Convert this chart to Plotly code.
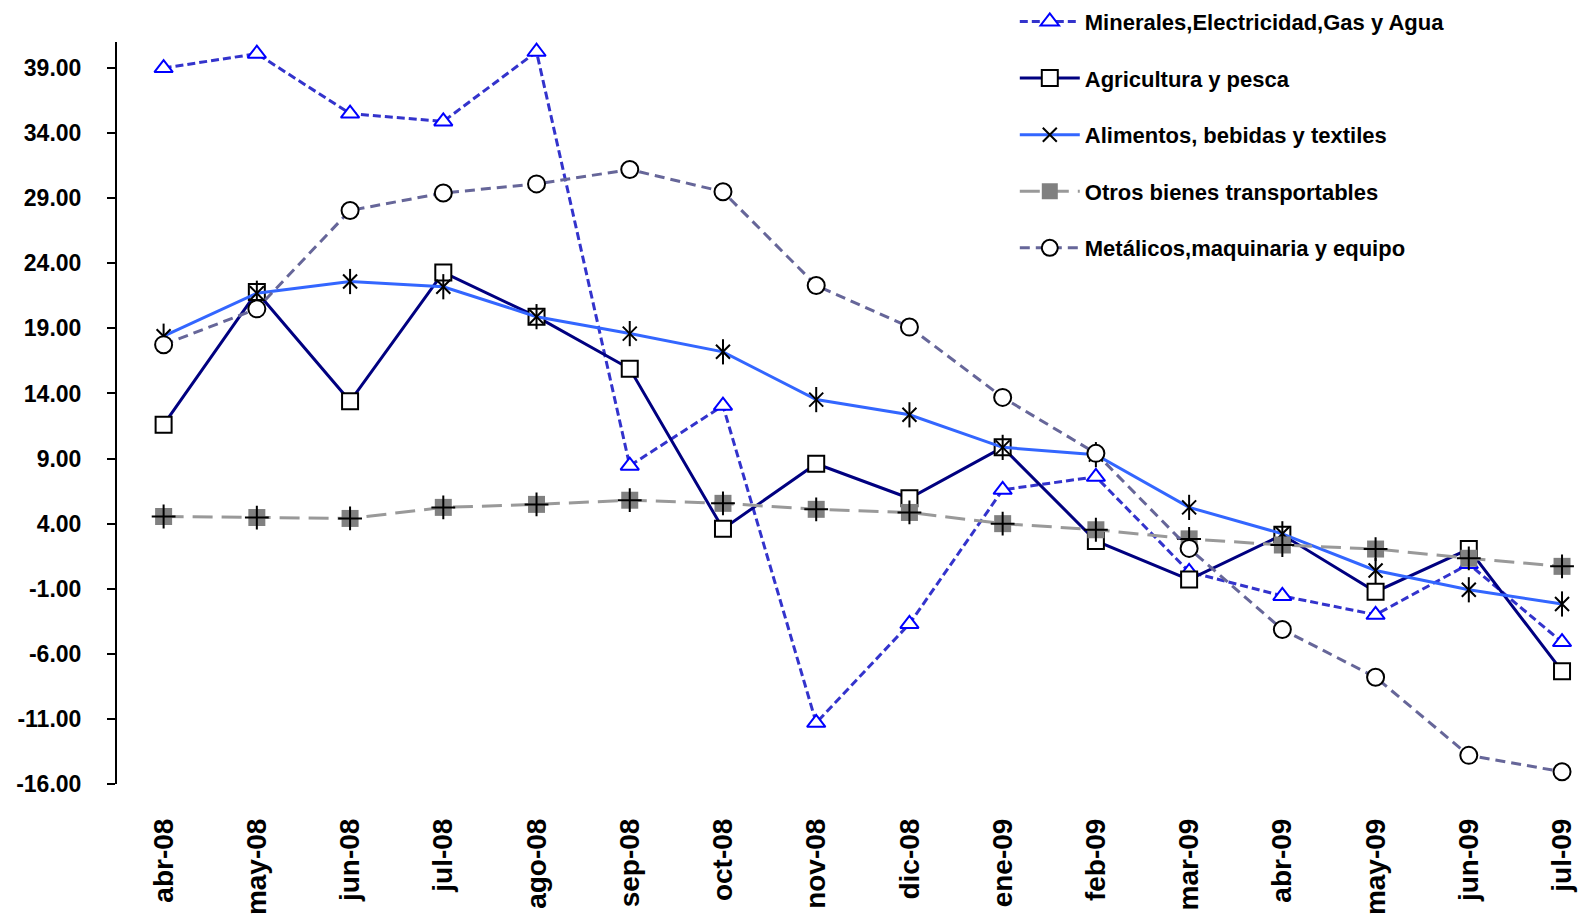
import plotly.graph_objects as go

months = ["abr-08", "may-08", "jun-08", "jul-08", "ago-08", "sep-08", "oct-08", "nov-08",
          "dic-08", "ene-09", "feb-09", "mar-09", "abr-09", "may-09", "jun-09", "jul-09"]

minerales = [39.0, 40.1, 35.5, 34.9, 40.25, 8.45, 13.06, -11.3, -3.7, 6.6, 7.6, 0.3, -1.55, -3.0, 0.9, -5.1]
agricultura = [11.6, 21.8, 13.4, 23.3, 19.9, 15.9, 3.6, 8.6, 5.95, 9.86, 2.67, -0.3, 3.14, -1.23, 2.05, -7.33]
alimentos = [18.4, 21.7, 22.6, 22.2, 19.9, 18.6, 17.2, 13.53, 12.36, 9.86, 9.3, 5.25, 3.22, 0.4, -1.08, -2.17]
otros = [4.55, 4.47, 4.4, 5.25, 5.48, 5.8, 5.56, 5.1, 4.86, 4.0, 3.53, 2.83, 2.36, 2.05, 1.34, 0.72]
metalicos = [17.75, 20.5, 28.06, 29.4, 30.1, 31.2, 29.5, 22.3, 19.1, 13.7, 9.4, 2.1, -4.13, -7.8, -13.8, -15.06]

y_ticks = [39, 34, 29, 24, 19, 14, 9, 4, -1, -6, -11, -16]

x = list(range(len(months)))
FONT = "Liberation Sans, Arial, sans-serif"

fig = go.Figure()

fig.add_trace(go.Scatter(
    x=x, y=minerales, name="Minerales,Electricidad,Gas y Agua", mode="lines+markers",
    legendgroup="g1",
    line=dict(color="#3333CC", width=3, dash="8px,4px"),
    marker=dict(symbol="triangle-up", size=16, color="white", line=dict(color="#0000FF", width=2)),
))
fig.add_trace(go.Scatter(
    x=x, y=agricultura, name="Agricultura y pesca", mode="lines+markers",
    legendgroup="g2",
    line=dict(color="#000080", width=3),
    marker=dict(symbol="square", size=16, color="white", line=dict(color="black", width=2)),
))
fig.add_trace(go.Scatter(
    x=x, y=alimentos, name="Alimentos, bebidas y textiles", mode="lines+markers",
    legendgroup="g3",
    line=dict(color="#3366FF", width=3),
    marker=dict(symbol="x-thin-open", size=14, color="black", line=dict(color="black", width=2)),
))
fig.add_trace(go.Scatter(
    x=x, y=alimentos, mode="markers", showlegend=False, legendgroup="g3", hoverinfo="skip",
    marker=dict(symbol="line-ns-open", size=18, color="black", line=dict(color="black", width=2)),
))
fig.add_trace(go.Scatter(
    x=x, y=otros, name="Otros bienes transportables", mode="lines+markers",
    legendgroup="g4",
    line=dict(color="#999999", width=3, dash="20px,9px"),
    marker=dict(symbol="square", size=17, color="#808080", line=dict(width=0)),
))
fig.add_trace(go.Scatter(
    x=x, y=otros, mode="markers", showlegend=False, legendgroup="g4", hoverinfo="skip",
    marker=dict(symbol="cross-thin-open", size=17, color="black", line=dict(color="black", width=2)),
))
fig.add_trace(go.Scatter(
    x=x, y=metalicos, name="Metálicos,maquinaria y equipo", mode="lines+markers",
    legendgroup="g5",
    line=dict(color="#666699", width=3, dash="10px,6px"),
    marker=dict(symbol="circle", size=17, color="white", line=dict(color="black", width=2)),
))

fig.update_layout(
    width=1595, height=916,
    paper_bgcolor="white", plot_bgcolor="white",
    margin=dict(l=109, r=13, t=34, b=140, autoexpand=False),
    font=dict(family=FONT, size=22, color="black"),
    legend=dict(
        xref="paper", yref="paper", x=0.6095, y=1.0557, xanchor="left", yanchor="top",
        font=dict(family=FONT, size=22, color="black", weight="bold"),
        itemwidth=60, tracegroupgap=25, bgcolor="rgba(0,0,0,0)",
        traceorder="grouped",
    ),
    xaxis=dict(
        range=[-0.5, 15.3], tickmode="array", tickvals=x, ticktext=months,
        tickangle=-90, showgrid=False, zeroline=False, showline=False, ticks="",
        tickfont=dict(family=FONT, size=28, color="black", weight="bold"),
        ticklabelstandoff=28,
    ),
    yaxis=dict(
        range=[-16, 41], tickmode="array", tickvals=y_ticks,
        ticktext=[f"{v:.2f}" for v in y_ticks],
        showgrid=False, zeroline=False, showline=True, linecolor="black", linewidth=2,
        ticks="outside", ticklen=8, tickwidth=2, tickcolor="black",
        tickfont=dict(family=FONT, size=23, color="black", weight="bold"),
        ticklabelstandoff=21,
    ),
    showlegend=True,
)

fig.write_html("out.html")
